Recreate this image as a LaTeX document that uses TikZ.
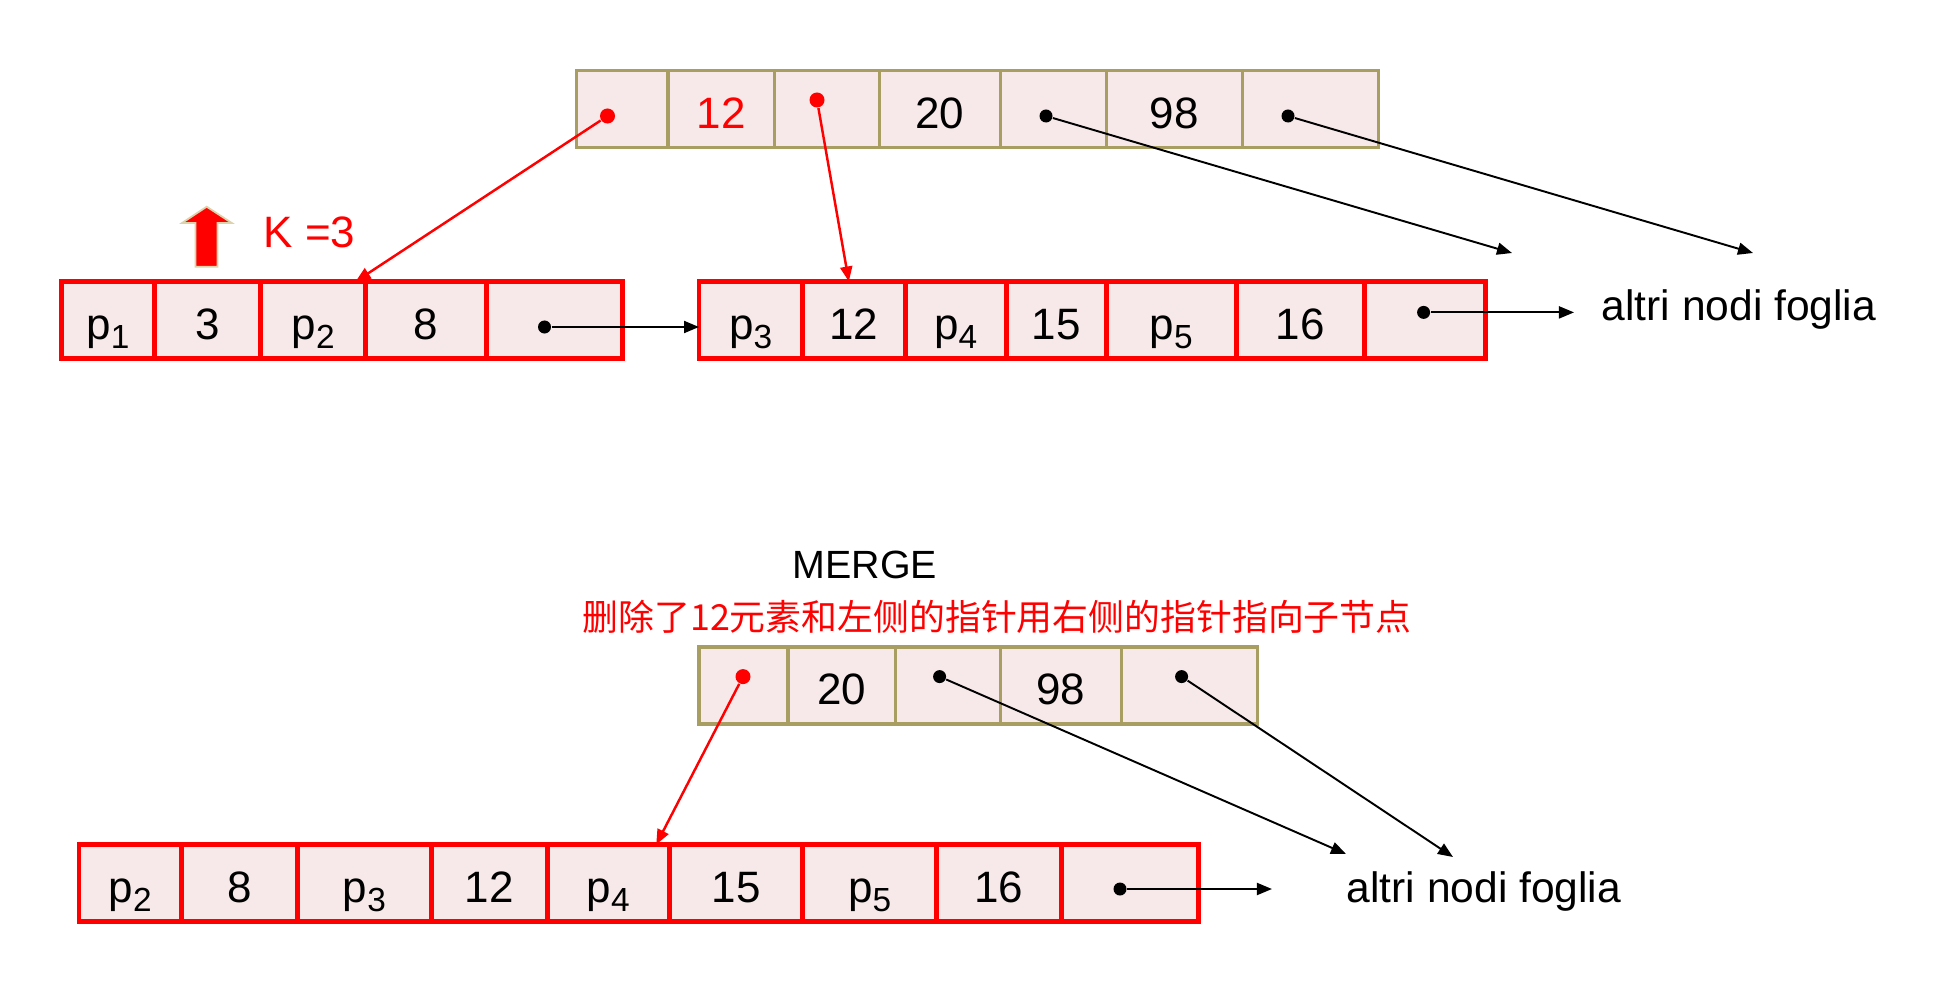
\documentclass[tikz,border=0pt]{standalone}
\usepackage{fontspec}
\setmainfont{Liberation Sans}
\newfontfamily\cjkfont{Noto Sans CJK SC}
\usepackage{tikz}
\usetikzlibrary{arrows.meta, positioning}

\definecolor{cellpink}{RGB}{247,233,233}
\definecolor{keyolive}{RGB}{168,158,98}
\definecolor{arrowrim}{RGB}{222,210,170}
\newcommand{\psub}[1]{p\raisebox{-2.6pt}{\fontsize{9.5}{10}\selectfont #1}}

\begin{document}
\begin{tikzpicture}[
  x=0.01cm, y=-0.01cm,
  font=\fontsize{12.5}{15}\selectfont,
  keycell/.style={rectangle, draw=keyolive, line width=0.9pt, fill=cellpink, minimum height=0.77cm, inner sep=0pt, outer sep=0pt, text height=11pt, text depth=0pt},
  leafcell/.style={rectangle, draw=red, line width=1.4pt, fill=cellpink, minimum height=0.77cm, inner sep=0pt, outer sep=0pt, text height=11pt, text depth=0pt},
  ptrdot/.style={circle, fill=black, inner sep=0pt, minimum size=0.13cm},
  reddot/.style={ptrdot, fill=red, minimum size=0.15cm},
  ptr/.style={-{Triangle[length=0.15cm, width=0.12cm]}, line width=0.55pt},
  redptr/.style={ptr, red, line width=0.7pt}
]
\useasboundingbox (0,0) rectangle (1936,988);

% Internal node (before)
\node[keycell, minimum width=0.914cm, anchor=north west] (top1) at (576.6,70.4) {};
\node[keycell, minimum width=1.06cm, right=0pt of top1, text=red] (top2) {12};
\node[keycell, minimum width=1.05cm, right=0pt of top2] (top3) {};
\node[keycell, minimum width=1.21cm, right=0pt of top3] (top4) {20};
\node[keycell, minimum width=1.06cm, right=0pt of top4] (top5) {};
\node[keycell, minimum width=1.36cm, right=0pt of top5] (top6) {98};
\node[keycell, minimum width=1.36cm, right=0pt of top6] (top7) {};
\node[reddot] (top1dot) at (607.5,116) {};
\node[reddot] (top3dot) at (817,100) {};
\node[ptrdot] (top5dot) at (1046,116) {};
\node[ptrdot] (top7dot) at (1288,116) {};

% Left leaf
\node[leafcell, minimum width=0.923cm, anchor=north west] (left1) at (61.7,281.5) {\psub{1}};
\node[leafcell, minimum width=1.065cm, right=0pt of left1] (left2) {3};
\node[leafcell, minimum width=1.05cm, right=0pt of left2] (left3) {\psub{2}};
\node[leafcell, minimum width=1.21cm, right=0pt of left3] (left4) {8};
\node[leafcell, minimum width=1.358cm, right=0pt of left4] (left5) {};
\node[ptrdot] (left5dot) at (544.5,327) {};

% Right leaf
\node[leafcell, minimum width=1.035cm, anchor=north west] (right1) at (699,281.5) {\psub{3}};
\node[leafcell, minimum width=1.025cm, right=0pt of right1] (right2) {12};
\node[leafcell, minimum width=1.01cm, right=0pt of right2] (right3) {\psub{4}};
\node[leafcell, minimum width=1.0cm, right=0pt of right3] (right4) {15};
\node[leafcell, minimum width=1.30cm, right=0pt of right4] (right5) {\psub{5}};
\node[leafcell, minimum width=1.28cm, right=0pt of right5] (right6) {16};
\node[leafcell, minimum width=1.213cm, right=0pt of right6] (right7) {};
\node[ptrdot] (right7dot) at (1423.6,312.4) {};
\node[anchor=west, inner sep=0pt, font=\fontsize{12.1}{15}\selectfont] (others1) at (1601,309) {altri nodi foglia};

% Underflow
\filldraw[fill=red, draw=arrowrim, line width=0.5pt] (206.7,206.7) -- (231.8,223) -- (217.6,223) -- (217.6,266.7) -- (195.4,266.7) -- (195.4,223) -- (182,223) -- cycle;
\node[text=red, anchor=west, inner sep=0pt] (kval) at (263,232) {K =3};

% Internal node (after)
\node[font=\fontsize{11.2}{14}\selectfont] (merge) at (865,565) {MERGE};
\node[text=red, font=\cjkfont\fontsize{10.2}{12}\selectfont] (note) at (997,617) {删除了12元素和左侧的指针用右侧的指针指向子节点};
\node[keycell, minimum width=0.89cm, anchor=north west] (mtop1) at (699,647) {};
\node[keycell, minimum width=1.07cm, right=0pt of mtop1] (mtop2) {20};
\node[keycell, minimum width=1.05cm, right=0pt of mtop2] (mtop3) {};
\node[keycell, minimum width=1.21cm, right=0pt of mtop3] (mtop4) {98};
\node[keycell, minimum width=1.36cm, right=0pt of mtop4] (mtop5) {};
\node[reddot] (mtop1dot) at (743,676.6) {};
\node[ptrdot] (mtop3dot) at (939.6,676.6) {};
\node[ptrdot] (mtop5dot) at (1181.6,676.6) {};

% Merged leaf
\node[leafcell, minimum width=1.025cm, anchor=north west] (merged1) at (79,844.5) {\psub{2}};
\node[leafcell, minimum width=1.16cm, right=0pt of merged1] (merged2) {8};
\node[leafcell, minimum width=1.334cm, right=0pt of merged2] (merged3) {\psub{3}};
\node[leafcell, minimum width=1.16cm, right=0pt of merged3] (merged4) {12};
\node[leafcell, minimum width=1.22cm, right=0pt of merged4] (merged5) {\psub{4}};
\node[leafcell, minimum width=1.335cm, right=0pt of merged5] (merged6) {15};
\node[leafcell, minimum width=1.335cm, right=0pt of merged6] (merged7) {\psub{5}};
\node[leafcell, minimum width=1.246cm, right=0pt of merged7] (merged8) {16};
\node[leafcell, minimum width=1.37cm, right=0pt of merged8] (merged9) {};
\node[ptrdot] (merged9dot) at (1120,889) {};
\node[anchor=west, inner sep=0pt, font=\fontsize{12.1}{15}\selectfont] (others2) at (1346,891) {altri nodi foglia};

% Free ends
\coordinate (farA) at (1512,253);
\coordinate (farB) at (1753,253);
\coordinate (farC) at (1346,854);
\coordinate (farD) at (1453,857);

% Pointers
\draw[redptr] (top1dot) -- ([xshift=-0.1cm]left3.north east);
\draw[redptr] (top3dot) -- ([xshift=-0.05cm]right2.north);
\draw[ptr] (top5dot) -- (farA);
\draw[ptr] (top7dot) -- (farB);
\draw[ptr] (left5dot) -- (left5dot -| right1.west);
\draw[ptr, shorten >=0.27cm] (right7dot) -- (right7dot -| others1.west);
\draw[redptr] (mtop1dot) -- ([xshift=-0.13cm]merged5.north east);
\draw[ptr] (mtop3dot) -- (farC);
\draw[ptr] (mtop5dot) -- (farD);
\draw[ptr, shorten >=0.74cm] (merged9dot) -- (merged9dot -| others2.west);

\end{tikzpicture}
\end{document}
